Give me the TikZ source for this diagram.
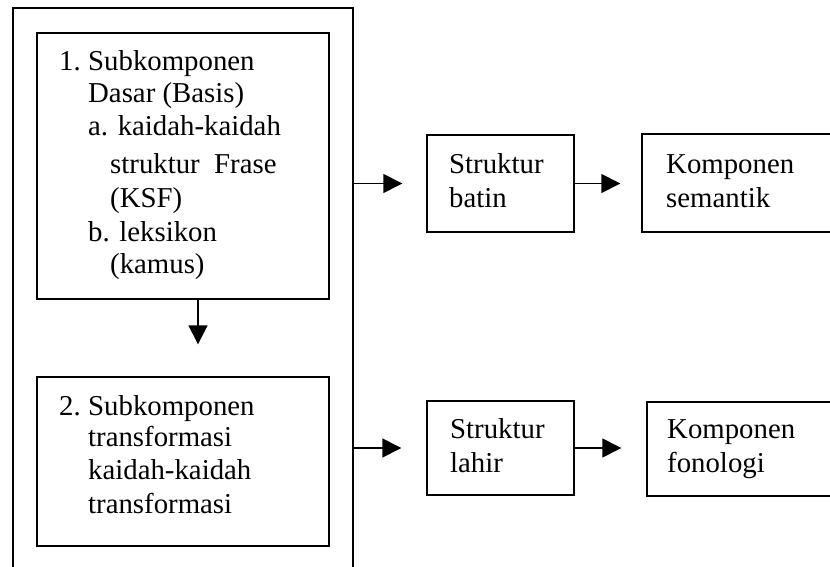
\documentclass[tikz,border=0pt]{standalone}
\usepackage{fontspec}
\setmainfont{Liberation Serif}
\usetikzlibrary{arrows.meta}
\begin{document}
\begin{tikzpicture}[x=1pt,y=-1pt,
  boxstyle/.style={draw, line width=1.4pt, inner sep=0pt, rectangle},
  txt/.style={anchor=base west, inner sep=0pt, font=\fontsize{28.8}{34}\selectfont},
  conn/.style={line width=1.4pt, -{Triangle[length=19pt,width=19pt]}}]
\useasboundingbox (0,0) rectangle (830,567);
\clip (0,0) rectangle (830,567);
\fill[white] (0,0) rectangle (830,567);
% boxes
\node[boxstyle, minimum width=340pt, minimum height=572pt] (outer) at (183,294) {};
\node[boxstyle, minimum width=292pt, minimum height=266pt] (b1) at (183,166) {};
\node[boxstyle, minimum width=292pt, minimum height=169pt] (b2) at (183,461.5) {};
\node[boxstyle, minimum width=147pt, minimum height=97pt] (batin) at (500.5,183.5) {};
\node[boxstyle, minimum width=200pt, minimum height=98pt] (sem) at (742,183) {};
\node[boxstyle, minimum width=147pt, minimum height=94pt] (lahir) at (500.5,448) {};
\node[boxstyle, minimum width=196pt, minimum height=94pt] (fon) at (745,449) {};
% texts box 1
\node[txt] (t1a) at (59,71) {1.};
\node[txt] (t1b) at (88,71) {Subkomponen};
\node[txt] (t1c) at (88,103) {Dasar (Basis)};
\node[txt] (t1d) at (88,136) {a. kaidah-kaidah};
\node[txt] (t1e) at (110,173) {struktur~ Frase};
\node[txt] (t1f) at (110,207) {(KSF)};
\node[txt] (t1g) at (88,241) {b. leksikon};
\node[txt] (t1h) at (110,273) {(kamus)};
% texts box 2
\node[txt] (t2a) at (59,415) {2.};
\node[txt] (t2b) at (88,415) {Subkomponen};
\node[txt] (t2c) at (88,446) {transformasi};
\node[txt] (t2d) at (88,479) {kaidah-kaidah};
\node[txt] (t2e) at (88,513) {transformasi};
% right texts
\node[txt] (t3a) at (449,173) {Struktur};
\node[txt] (t3b) at (449,207) {batin};
\node[txt] (t4a) at (666,173) {Komponen};
\node[txt] (t4b) at (666,207) {semantik};
\node[txt] (t5a) at (450,438) {Struktur};
\node[txt] (t5b) at (450,472) {lahir};
\node[txt] (t6a) at (667,438) {Komponen};
\node[txt] (t6b) at (667,472) {fonologi};
% connectors
\draw[conn, shorten >=32pt] ([xshift=15pt]b1.south) -- ([xshift=15pt]b2.north);
\draw[conn, shorten >=24pt] (outer.east |- batin.west) -- (batin.west);
\draw[conn, shorten >=21pt] (batin.east) -- (batin.east -| sem.west);
\draw[conn, shorten >=25pt] (outer.east |- lahir.west) -- (lahir.west);
\draw[conn, shorten >=25pt] (lahir.east) -- (lahir.east -| fon.west);
\end{tikzpicture}
\end{document}
